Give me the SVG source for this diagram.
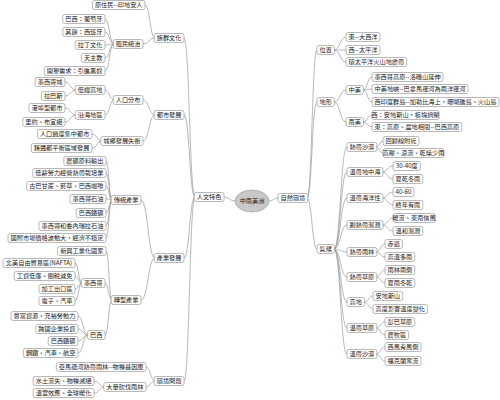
<svg xmlns="http://www.w3.org/2000/svg" width="500" height="400" viewBox="0 0 500 400">
<style>
.c{fill:none;stroke:#9a9a9a;stroke-width:.7}
rect{fill:#fff;stroke:#8a8a8a;stroke-width:.6}
.ce{fill:#c8c8c8;stroke:#999;stroke-width:.6}
text{font-family:"Noto Sans CJK TC","Noto Sans CJK SC",sans-serif;font-size:6.2px;fill:#222;text-anchor:middle}
</style>
<rect x="0" y="0" width="500" height="400" style="fill:#fff;stroke:none"/>
<g id="connectors">
<path class="c" d="M235 201C229.5 201 229.5 197 224 197"/>
<path class="c" d="M269 201C273.5 201 273.5 198 278 198"/>
<path class="c" d="M195 197C189.5 197 189.5 38 184 38"/>
<path class="c" d="M195 197C189.5 197 189.5 115 184 115"/>
<path class="c" d="M195 197C189.5 197 189.5 258 184 258"/>
<path class="c" d="M195 197C189.5 197 189.5 381 184 381"/>
<path class="c" d="M155 38C150 38 150 5 145 5"/>
<path class="c" d="M155 38C149 38 149 44 143 44"/>
<path class="c" d="M114 44C109.5 44 109.5 19 105 19"/>
<path class="c" d="M114 44C109.5 44 109.5 32 105 32"/>
<path class="c" d="M114 44C109.5 44 109.5 45 105 45"/>
<path class="c" d="M114 44C109.5 44 109.5 58 105 58"/>
<path class="c" d="M114 44C109.5 44 109.5 71 105 71"/>
<path class="c" d="M155 115C149 115 149 100 143 100"/>
<path class="c" d="M155 115C149 115 149 141 143 141"/>
<path class="c" d="M114 100C109.5 100 109.5 90 105 90"/>
<path class="c" d="M114 100C109.5 100 109.5 115 105 115"/>
<path class="c" d="M76 90C70.5 90 70.5 82 65 82"/>
<path class="c" d="M76 90C70.5 90 70.5 96 65 96"/>
<path class="c" d="M76 115C70.5 115 70.5 108 65 108"/>
<path class="c" d="M76 115C70.5 115 70.5 122 65 122"/>
<path class="c" d="M102 141C97 141 97 134 92 134"/>
<path class="c" d="M102 141C97 141 97 148 92 148"/>
<path class="c" d="M155 258C148 258 148 200 141 200"/>
<path class="c" d="M155 258C148 258 148 300 141 300"/>
<path class="c" d="M112 200C109 200 109 161 106 161"/>
<path class="c" d="M112 200C109 200 109 173 106 173"/>
<path class="c" d="M112 200C109 200 109 186 106 186"/>
<path class="c" d="M112 200C109 200 109 199 106 199"/>
<path class="c" d="M112 200C109 200 109 213 106 213"/>
<path class="c" d="M112 200C109 200 109 226 106 226"/>
<path class="c" d="M112 200C109 200 109 238 106 238"/>
<path class="c" d="M112 300C109 300 109 251 106 251"/>
<path class="c" d="M112 300C108.5 300 108.5 283 105 283"/>
<path class="c" d="M112 300C108.5 300 108.5 335 105 335"/>
<path class="c" d="M82 283C78.5 283 78.5 263 75 263"/>
<path class="c" d="M82 283C78.5 283 78.5 276 75 276"/>
<path class="c" d="M82 283C78.5 283 78.5 289 75 289"/>
<path class="c" d="M82 283C78.5 283 78.5 301 75 301"/>
<path class="c" d="M88 335C83 335 83 316 78 316"/>
<path class="c" d="M88 335C83 335 83 329 78 329"/>
<path class="c" d="M88 335C83 335 83 341 78 341"/>
<path class="c" d="M88 335C83 335 83 353 78 353"/>
<path class="c" d="M155 381C150.5 381 150.5 367 146 367"/>
<path class="c" d="M155 381C150.5 381 150.5 387 146 387"/>
<path class="c" d="M105 387C99.5 387 99.5 381 94 381"/>
<path class="c" d="M105 387C99.5 387 99.5 393 94 393"/>
<path class="c" d="M307 198C312 198 312 50 317 50"/>
<path class="c" d="M307 198C312 198 312 102 317 102"/>
<path class="c" d="M307 198C312 198 312 249 317 249"/>
<path class="c" d="M334 50C340 50 340 37 346 37"/>
<path class="c" d="M334 50C340 50 340 50 346 50"/>
<path class="c" d="M334 50C340 50 340 62 346 62"/>
<path class="c" d="M334 102C340 102 340 90 346 90"/>
<path class="c" d="M334 102C340 102 340 122 346 122"/>
<path class="c" d="M363 90C367.5 90 367.5 77 372 77"/>
<path class="c" d="M363 90C367.5 90 367.5 89 372 89"/>
<path class="c" d="M363 90C367.5 90 367.5 102 372 102"/>
<path class="c" d="M363 122C367.5 122 367.5 115 372 115"/>
<path class="c" d="M363 122C367.5 122 367.5 127 372 127"/>
<path class="c" d="M334 249C340.5 249 340.5 147 347 147"/>
<path class="c" d="M334 249C340.5 249 340.5 172 347 172"/>
<path class="c" d="M334 249C340.5 249 340.5 198 347 198"/>
<path class="c" d="M334 249C340.5 249 340.5 225 347 225"/>
<path class="c" d="M334 249C340.5 249 340.5 252 347 252"/>
<path class="c" d="M334 249C340.5 249 340.5 277 347 277"/>
<path class="c" d="M334 249C340.5 249 340.5 302 347 302"/>
<path class="c" d="M334 249C340.5 249 340.5 328 347 328"/>
<path class="c" d="M334 249C340.5 249 340.5 354 347 354"/>
<path class="c" d="M376 147C379.5 147 379.5 141 383 141"/>
<path class="c" d="M376 147C379.5 147 379.5 153 383 153"/>
<path class="c" d="M382 172C387.5 172 387.5 166 393 166"/>
<path class="c" d="M382 172C387.5 172 387.5 179 393 179"/>
<path class="c" d="M382 198C387.5 198 387.5 192 393 192"/>
<path class="c" d="M382 198C387.5 198 387.5 205 393 205"/>
<path class="c" d="M382 225C387.5 225 387.5 218 393 218"/>
<path class="c" d="M382 225C387.5 225 387.5 231 393 231"/>
<path class="c" d="M376 252C380.5 252 380.5 244 385 244"/>
<path class="c" d="M376 252C380.5 252 380.5 257 385 257"/>
<path class="c" d="M376 277C380.5 277 380.5 270 385 270"/>
<path class="c" d="M376 277C380.5 277 380.5 283 385 283"/>
<path class="c" d="M364 302C368.5 302 368.5 296 373 296"/>
<path class="c" d="M364 302C368.5 302 368.5 309 373 309"/>
<path class="c" d="M376 328C380.5 328 380.5 322 385 322"/>
<path class="c" d="M376 328C380.5 328 380.5 335 385 335"/>
<path class="c" d="M376 354C380.5 354 380.5 347 385 347"/>
<path class="c" d="M376 354C380.5 354 380.5 361 385 361"/>
</g>
<g id="center"><ellipse class="ce" cx="252" cy="201" rx="17" ry="11"/><text x="252" y="203.2">中南美洲</text></g>
<g id="n-renwen"><rect x="194.2" y="192.5" width="29.8" height="9" rx="2"/><text x="209.1" y="199.1">人文特色</text></g>
<g id="n-zuqun"><rect x="154.2" y="33.5" width="29.8" height="9" rx="2"/><text x="169.1" y="40.1">族群文化</text></g>
<g id="n-dushi"><rect x="154.2" y="110.5" width="29.8" height="9" rx="2"/><text x="169.1" y="117.1">都市發展</text></g>
<g id="n-chanye"><rect x="154.2" y="253.5" width="29.8" height="9" rx="2"/><text x="169.1" y="260.1">產業發展</text></g>
<g id="n-huanjing"><rect x="154.2" y="376.5" width="29.8" height="9" rx="2"/><text x="169.1" y="383.1">環境問題</text></g>
<g id="n-yuanzhumin"><rect x="92.5" y="0.5" width="52.5" height="9" rx="2"/><text x="118.75" y="7.1">原住民--印地安人</text></g>
<g id="n-zhimin"><rect x="113.2" y="39.5" width="29.8" height="9" rx="2"/><text x="128.1" y="46.1">殖民統治</text></g>
<g id="n-baxi-pu"><rect x="62.8" y="14.5" width="42.2" height="9" rx="2"/><text x="83.9" y="21.1">巴西：葡萄牙</text></g>
<g id="n-qiyu"><rect x="62.8" y="27.5" width="42.2" height="9" rx="2"/><text x="83.9" y="34.1">其餘：西班牙</text></g>
<g id="n-lading"><rect x="75.2" y="40.5" width="29.8" height="9" rx="2"/><text x="90.1" y="47.1">拉丁文化</text></g>
<g id="n-tianzhu"><rect x="81.4" y="53.5" width="23.6" height="9" rx="2"/><text x="93.2" y="60.1">天主教</text></g>
<g id="n-kaiken"><rect x="44.2" y="66.5" width="60.8" height="9" rx="2"/><text x="74.6" y="73.1">開墾需求：引進黑奴</text></g>
<g id="n-renkou"><rect x="113.2" y="95.5" width="29.8" height="9" rx="2"/><text x="128.1" y="102.1">人口分布</text></g>
<g id="n-chengxiang"><rect x="100.8" y="136.5" width="42.2" height="9" rx="2"/><text x="121.9" y="143.1">城鄉發展失衡</text></g>
<g id="n-diwei"><rect x="75.2" y="85.5" width="29.8" height="9" rx="2"/><text x="90.1" y="92.1">低緯高地</text></g>
<g id="n-yanhai"><rect x="75.2" y="110.5" width="29.8" height="9" rx="2"/><text x="90.1" y="117.1">沿海地區</text></g>
<g id="n-moxigecheng"><rect x="35.2" y="77.5" width="29.8" height="9" rx="2"/><text x="50.1" y="84.1">墨西哥城</text></g>
<g id="n-labasi"><rect x="41.4" y="91.5" width="23.6" height="9" rx="2"/><text x="53.2" y="98.1">拉巴斯</text></g>
<g id="n-gangbu"><rect x="29" y="103.5" width="36" height="9" rx="2"/><text x="47" y="110.1">港埠型都市</text></g>
<g id="n-liyue"><rect x="22.8" y="117.5" width="42.2" height="9" rx="2"/><text x="43.9" y="124.1">里約、布宜諾</text></g>
<g id="n-guodu"><rect x="37.4" y="129.5" width="54.6" height="9" rx="2"/><text x="64.7" y="136.1">人口過度集中都市</text></g>
<g id="n-qiandu"><rect x="31.2" y="143.5" width="60.8" height="9" rx="2"/><text x="61.6" y="150.1">藉遷都平衡區域發展</text></g>
<g id="n-chuantong"><rect x="111.2" y="195.5" width="29.8" height="9" rx="2"/><text x="126.1" y="202.1">傳統產業</text></g>
<g id="n-zhuanxing"><rect x="111.2" y="295.5" width="29.8" height="9" rx="2"/><text x="126.1" y="302.1">轉型產業</text></g>
<g id="n-nongkuang"><rect x="63.8" y="156.5" width="42.2" height="9" rx="2"/><text x="84.9" y="163.1">農礦原料輸出</text></g>
<g id="n-dixin"><rect x="32.8" y="168.5" width="73.2" height="9" rx="2"/><text x="69.4" y="175.1">低薪勞力經營熱帶栽培業</text></g>
<g id="n-guba"><rect x="26.6" y="181.5" width="79.4" height="9" rx="2"/><text x="66.3" y="188.1">古巴甘蔗、菸草、巴西咖啡</text></g>
<g id="n-mx-oil"><rect x="70" y="194.5" width="36" height="9" rx="2"/><text x="88" y="201.1">墨西哥石油</text></g>
<g id="n-br-iron1"><rect x="76.2" y="208.5" width="29.8" height="9" rx="2"/><text x="91.1" y="215.1">巴西鐵礦</text></g>
<g id="n-mx-ve-oil"><rect x="39" y="221.5" width="67" height="9" rx="2"/><text x="72.5" y="228.1">墨西哥和委內瑞拉石油</text></g>
<g id="n-guoji"><rect x="8" y="233.5" width="98" height="9" rx="2"/><text x="57" y="240.1">國際市場價格波動大，經濟不穩定</text></g>
<g id="n-xinxing"><rect x="57.6" y="246.5" width="48.4" height="9" rx="2"/><text x="81.8" y="253.1">新興工業化國家</text></g>
<g id="n-moxige"><rect x="81.4" y="278.5" width="23.6" height="9" rx="2"/><text x="93.2" y="285.1">墨西哥</text></g>
<g id="n-baxi"><rect x="87.6" y="330.5" width="17.4" height="9" rx="2"/><text x="96.3" y="337.1">巴西</text></g>
<g id="n-nafta"><rect x="3" y="258.5" width="72" height="9" rx="2"/><text x="39" y="265.1">北美自由貿易區(NAFTA)</text></g>
<g id="n-gongzi"><rect x="14.2" y="271.5" width="60.8" height="9" rx="2"/><text x="44.6" y="278.1">工資低廉、關稅減免</text></g>
<g id="n-jiagong"><rect x="39" y="284.5" width="36" height="9" rx="2"/><text x="57" y="291.1">加工出口區</text></g>
<g id="n-dianzi"><rect x="39" y="296.5" width="36" height="9" rx="2"/><text x="57" y="303.1">電子、汽車</text></g>
<g id="n-fengfu"><rect x="11" y="311.5" width="67" height="9" rx="2"/><text x="44.5" y="318.1">豐富資源、充裕勞動力</text></g>
<g id="n-kuaguo"><rect x="35.8" y="324.5" width="42.2" height="9" rx="2"/><text x="56.9" y="331.1">跨國企業投資</text></g>
<g id="n-br-iron2"><rect x="48.2" y="336.5" width="29.8" height="9" rx="2"/><text x="63.1" y="343.1">巴西鐵礦</text></g>
<g id="n-gangtie"><rect x="23.4" y="348.5" width="54.6" height="9" rx="2"/><text x="50.7" y="355.1">鋼鐵、汽車、航空</text></g>
<g id="n-yamaxun"><rect x="56.3" y="362.5" width="89.7" height="9" rx="2"/><text x="101.15" y="369.1">亞馬遜河熱帶雨林--物種基因庫</text></g>
<g id="n-kanfa"><rect x="103.8" y="382.5" width="42.2" height="9" rx="2"/><text x="124.9" y="389.1">大量砍伐雨林</text></g>
<g id="n-shuitu"><rect x="33.2" y="376.5" width="60.8" height="9" rx="2"/><text x="63.6" y="383.1">水土流失、物種滅絕</text></g>
<g id="n-wenshi"><rect x="33.2" y="388.5" width="60.8" height="9" rx="2"/><text x="63.6" y="395.1">溫室效應、全球暖化</text></g>
<g id="n-ziran"><rect x="278" y="193.5" width="29.8" height="9" rx="2"/><text x="292.9" y="200.1">自然環境</text></g>
<g id="n-weizhi"><rect x="317" y="45.5" width="17.4" height="9" rx="2"/><text x="325.7" y="52.1">位置</text></g>
<g id="n-dixing"><rect x="317" y="97.5" width="17.4" height="9" rx="2"/><text x="325.7" y="104.1">地形</text></g>
<g id="n-qihou"><rect x="317" y="244.5" width="17.4" height="9" rx="2"/><text x="325.7" y="251.1">氣候</text></g>
<g id="n-dong"><rect x="346" y="32.5" width="34" height="9" rx="2"/><text x="363" y="39.1">東--大西洋</text></g>
<g id="n-xi"><rect x="346" y="45.5" width="34" height="9" rx="2"/><text x="363" y="52.1">西--太平洋</text></g>
<g id="n-huan"><rect x="346" y="57.5" width="60.8" height="9" rx="2"/><text x="376.4" y="64.1">環太平洋火山地震帶</text></g>
<g id="n-zhongmei"><rect x="346" y="85.5" width="17.4" height="9" rx="2"/><text x="354.7" y="92.1">中美</text></g>
<g id="n-nanmei"><rect x="346" y="117.5" width="17.4" height="9" rx="2"/><text x="354.7" y="124.1">南美</text></g>
<g id="n-mxgaoyuan"><rect x="372" y="72.5" width="71" height="9" rx="2"/><text x="407.5" y="79.1">墨西哥高原--洛磯山延伸</text></g>
<g id="n-dixia"><rect x="372" y="84.5" width="96" height="9" rx="2"/><text x="420" y="91.1">中美地峽--巴拿馬運河為兩洋運河</text></g>
<g id="n-xiyindu"><rect x="372" y="97.5" width="127" height="9" rx="2"/><text x="435.5" y="104.1">西印度群島--加勒比海上，珊瑚礁島、火山島</text></g>
<g id="n-andes"><rect x="372" y="110.5" width="67" height="9" rx="2"/><text x="405.5" y="117.1">西：安地斯山，板塊擠壓</text></g>
<g id="n-dong-gy"><rect x="372" y="122.5" width="89.7" height="9" rx="2"/><text x="416.85" y="129.1">東：高原、盆地相間--巴西高原</text></g>
<g id="n-redaishamo"><rect x="347" y="142.5" width="29.8" height="9" rx="2"/><text x="361.9" y="149.1">熱帶沙漠</text></g>
<g id="n-huiguixian"><rect x="383" y="136.5" width="36" height="9" rx="2"/><text x="401" y="143.1">回歸線附近</text></g>
<g id="n-gaoya"><rect x="383" y="148.5" width="60.8" height="9" rx="2"/><text x="413.4" y="155.1">高壓、涼流、乾燥少雨</text></g>
<g id="n-dizhonghai"><rect x="347" y="167.5" width="36" height="9" rx="2"/><text x="365" y="174.1">溫帶地中海</text></g>
<g id="n-3040"><rect x="393" y="161.5" width="27.5" height="9" rx="2"/><text x="406.75" y="168.1">30-40度</text></g>
<g id="n-xiagan"><rect x="393" y="174.5" width="29.8" height="9" rx="2"/><text x="407.9" y="181.1">夏乾冬雨</text></g>
<g id="n-haiyang"><rect x="347" y="193.5" width="36" height="9" rx="2"/><text x="365" y="200.1">溫帶海洋性</text></g>
<g id="n-4060"><rect x="393" y="187.5" width="21" height="9" rx="2"/><text x="403.5" y="194.1">40-60</text></g>
<g id="n-zhongnian"><rect x="393" y="200.5" width="29.8" height="9" rx="2"/><text x="407.9" y="207.1">終年有雨</text></g>
<g id="n-furedai"><rect x="347" y="220.5" width="36" height="9" rx="2"/><text x="365" y="227.1">副熱帶濕潤</text></g>
<g id="n-nuanliu"><rect x="393" y="213.5" width="42.2" height="9" rx="2"/><text x="414.1" y="220.1">暖流、東南信風</text></g>
<g id="n-wenhe"><rect x="393" y="226.5" width="29.8" height="9" rx="2"/><text x="407.9" y="233.1">溫和濕潤</text></g>
<g id="n-yulin"><rect x="347" y="247.5" width="29.8" height="9" rx="2"/><text x="361.9" y="254.1">熱帶雨林</text></g>
<g id="n-chidao"><rect x="385" y="239.5" width="17.4" height="9" rx="2"/><text x="393.7" y="246.1">赤道</text></g>
<g id="n-gaowen"><rect x="385" y="252.5" width="29.8" height="9" rx="2"/><text x="399.9" y="259.1">高溫多雨</text></g>
<g id="n-caoyuan"><rect x="347" y="272.5" width="29.8" height="9" rx="2"/><text x="361.9" y="279.1">熱帶草原</text></g>
<g id="n-liangce"><rect x="385" y="265.5" width="29.8" height="9" rx="2"/><text x="399.9" y="272.1">雨林兩側</text></g>
<g id="n-xiayu"><rect x="385" y="278.5" width="29.8" height="9" rx="2"/><text x="399.9" y="285.1">夏雨冬乾</text></g>
<g id="n-gaodi"><rect x="347" y="297.5" width="17.4" height="9" rx="2"/><text x="355.7" y="304.1">高地</text></g>
<g id="n-andes2"><rect x="373" y="291.5" width="29.8" height="9" rx="2"/><text x="387.9" y="298.1">安地斯山</text></g>
<g id="n-gaodu"><rect x="373" y="304.5" width="54.6" height="9" rx="2"/><text x="400.3" y="311.1">高度影響溫度變化</text></g>
<g id="n-wdcaoyuan"><rect x="347" y="323.5" width="29.8" height="9" rx="2"/><text x="361.9" y="330.1">溫帶草原</text></g>
<g id="n-pengba"><rect x="385" y="317.5" width="29.8" height="9" rx="2"/><text x="399.9" y="324.1">彭巴草原</text></g>
<g id="n-nongmu"><rect x="385" y="330.5" width="23.6" height="9" rx="2"/><text x="396.8" y="337.1">農牧區</text></g>
<g id="n-wdshamo"><rect x="347" y="349.5" width="29.8" height="9" rx="2"/><text x="361.9" y="356.1">溫帶沙漠</text></g>
<g id="n-xifeng"><rect x="385" y="342.5" width="36" height="9" rx="2"/><text x="403" y="349.1">西風背風側</text></g>
<g id="n-fukelan"><rect x="385" y="356.5" width="36" height="9" rx="2"/><text x="403" y="363.1">福克蘭寒流</text></g>
</svg>
